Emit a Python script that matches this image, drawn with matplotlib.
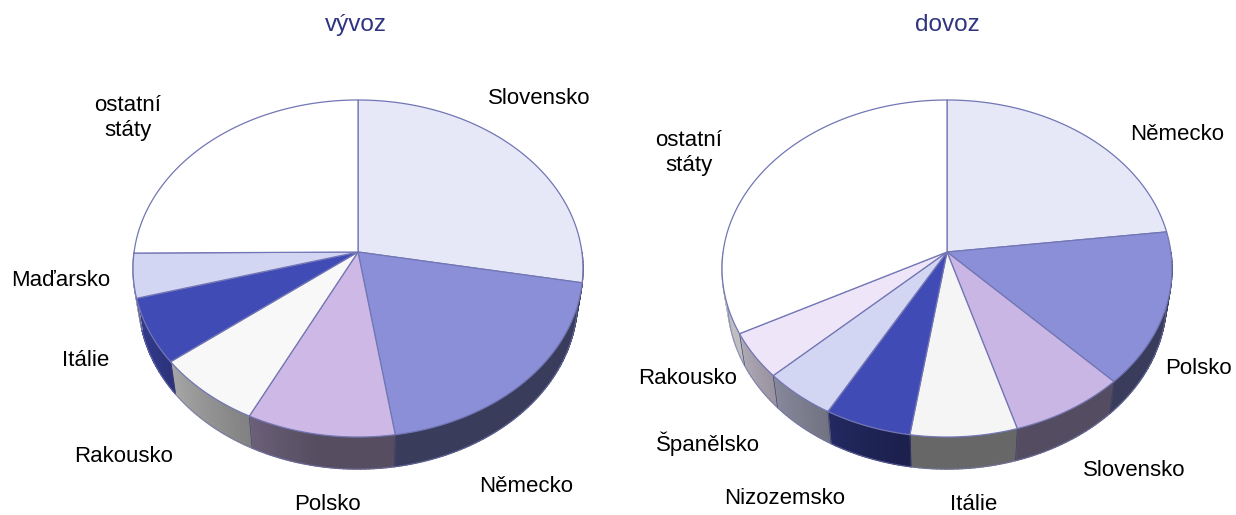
import matplotlib
matplotlib.use('Agg')
import matplotlib.pyplot as plt
import numpy as np

plt.rcParams['font.family'] = ['Liberation Sans', 'DejaVu Sans']

# data (percent)
vyvoz_labels = ['Slovensko', 'Německo', 'Polsko', 'Rakousko', 'Itálie', 'Maďarsko', 'ostatní\nstáty']
vyvoz_values = [27.9, 19.7, 9.7, 7.1, 6.25, 4.25, 25.1]
dovoz_labels = ['Německo', 'Polsko', 'Slovensko', 'Itálie', 'Nizozemsko', 'Španělsko', 'Rakousko', 'ostatní\nstáty']
dovoz_values = [23.1, 14.8, 7.6, 7.0, 5.7, 4.8, 4.4, 32.8]

# slice colours
vyvoz_colors = ['#E6E8F8', '#8A8FD8', '#CDB8E6', '#F8F8F8', '#414BB5', '#D3D6F2', '#FFFFFF']
dovoz_colors = ['#E6E8F8', '#8A8FD8', '#C9B6E4', '#F5F5F5', '#414BB5', '#D3D6F2', '#EEE6F8', '#FFFFFF']

# label positions in pixels
vyvoz_pos = [(539, 99), (526, 487), (327, 505), (124, 457), (86, 360), (61, 281), (128, 118)]
dovoz_pos = [(1177, 134), (1198, 368), (1134, 471), (974, 505), (785, 498), (708, 444), (688, 378), (689, 153)]

TEXT_SIZE = 16
EDGE = '#7276B4'
DEPTH = 32
NARROW = 0.975


def project(cx, cy, ang):
    # circle seen in perspective, ang is clockwise from the top in degrees
    a = np.radians(ang)
    u, v = np.sin(a), np.cos(a)
    k = 0.098
    w = 1 + k * v
    return cx + 223.9 * u / w, cy - 166.9 * v / w


def shade(ang):
    # side wall gets lighter towards the left
    return np.interp(ang, [0, 190, 245, 360], [0.42, 0.42, 0.75, 0.75])


def draw_pie(ax, cx, cy, values, colors):
    values = np.array(values, dtype=float)
    edges = np.concatenate([[0], np.cumsum(values) / values.sum() * 360])

    # side wall first
    for i, col in enumerate(colors):
        lo, hi = max(edges[i], 90), min(edges[i + 1], 270)
        if hi <= lo:
            continue
        steps = np.append(np.arange(lo, hi, 1.0), hi)
        rgb = np.array(matplotlib.colors.to_rgb(col))
        for a0, a1 in zip(steps[:-1], steps[1:]):
            x, y = project(cx, cy, np.array([a0, a1]))
            bx = cx + (x - cx) * NARROW
            c = rgb * shade((a0 + a1) / 2)
            ax.fill([x[0], x[1], bx[1], bx[0]], [y[0], y[1], y[1] + DEPTH, y[0] + DEPTH],
                    facecolor=c, edgecolor=c, lw=1.0, zorder=1)
        # dark line at the slice border
        x, y = project(cx, cy, np.array([hi]))
        if hi < 270:
            bx = cx + (x[0] - cx) * NARROW
            ax.plot([x[0], bx], [y[0], y[0] + DEPTH], color='#3A3D70', lw=0.5, zorder=2)

    # lower rim
    aa = np.linspace(90, 270, 200)
    x, y = project(cx, cy, aa)
    ax.plot(cx + (x - cx) * NARROW, y + DEPTH, color=EDGE, lw=0.7, alpha=0.7, zorder=2)

    # top surface
    for i, col in enumerate(colors):
        aa = np.linspace(edges[i], edges[i + 1], 100)
        x, y = project(cx, cy, aa)
        ax.fill(np.r_[cx, x], np.r_[cy, y], facecolor=col, edgecolor=EDGE, lw=0.9,
                joinstyle='round', zorder=3)


fig = plt.figure(figsize=(12.36, 5.15), dpi=100)
ax = fig.add_axes([0, 0, 1, 1])
ax.set_xlim(0, 1236)
ax.set_ylim(515, 0)
ax.axis('off')

draw_pie(ax, 358, 252, vyvoz_values, vyvoz_colors)
draw_pie(ax, 947, 252, dovoz_values, dovoz_colors)

ax.text(356, 25, 'vývoz', fontsize=17.5, color='#2F3480', ha='center', va='center')
ax.text(947, 25, 'dovoz', fontsize=17.5, color='#2F3480', ha='center', va='center')

for lab, (x, y) in zip(vyvoz_labels + dovoz_labels, vyvoz_pos + dovoz_pos):
    ax.text(x, y, lab, fontsize=TEXT_SIZE, color='black', ha='center', va='center',
            linespacing=1.2, zorder=5)

fig.savefig('out.png', dpi=100)
plt.close(fig)
